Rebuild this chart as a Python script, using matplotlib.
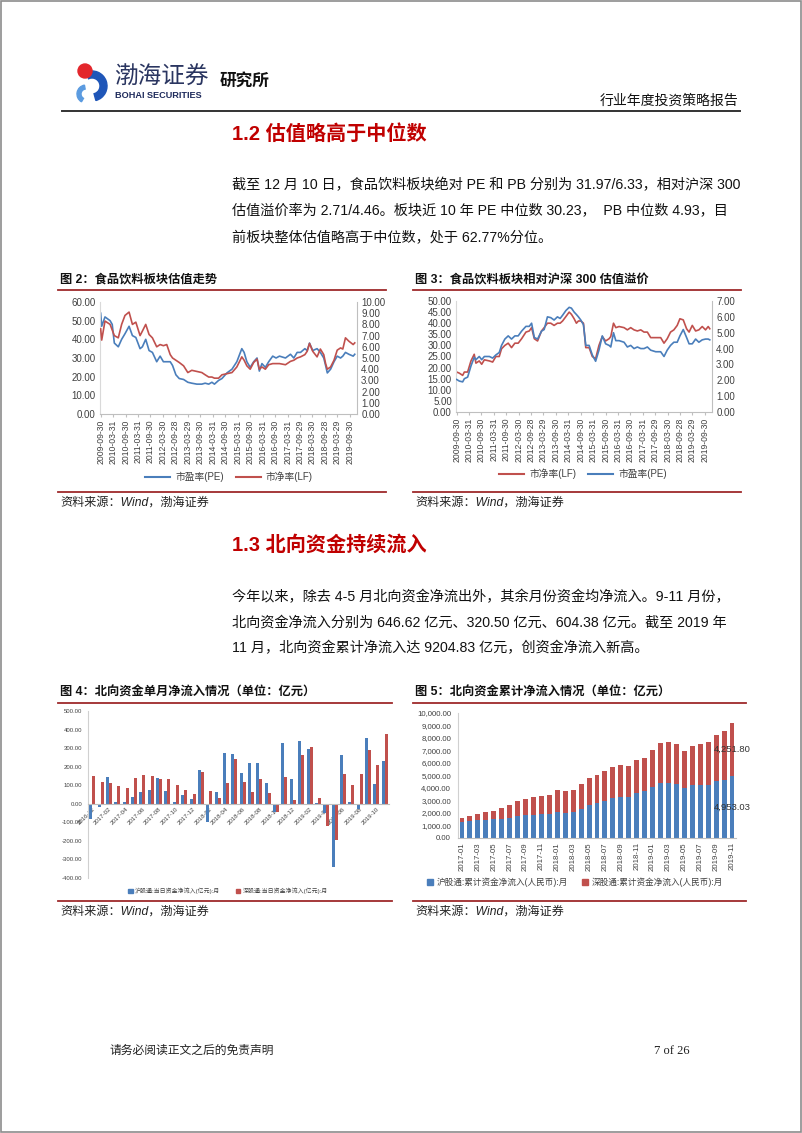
import numpy as np
import pandas as pd
import matplotlib
matplotlib.use('Agg')
import matplotlib.pyplot as plt
from matplotlib.patches import Rectangle, Wedge, Circle, Patch
from matplotlib.lines import Line2D
from matplotlib.ticker import FuncFormatter

plt.rcParams['font.family'] = ['Liberation Sans', 'Noto Sans CJK SC', 'DejaVu Sans']

# ---------------- 数据 ----------------
# 图2: 食品饮料板块估值走势
fig2_dates = ['2009-09-30', '2009-10-15', '2009-12-02', '2010-02-15', '2010-03-18', '2010-04-18',
              '2010-06-15', '2010-08-03', '2010-09-21', '2010-11-20', '2011-01-08', '2011-02-27',
              '2011-04-30', '2011-06-03', '2011-07-22', '2011-09-09', '2011-10-28', '2011-12-30',
              '2012-02-18', '2012-04-06', '2012-05-25', '2012-07-15', '2012-08-18', '2012-10-06',
              '2012-11-24', '2013-01-27', '2013-03-30', '2013-05-27', '2013-08-09', '2013-10-21',
              '2013-12-09', '2014-01-30', '2014-03-18', '2014-04-24', '2014-06-24', '2014-08-12',
              '2014-10-24', '2015-01-06', '2015-03-18', '2015-05-30', '2015-07-03', '2015-08-12',
              '2015-09-30', '2015-11-20', '2016-01-08', '2016-02-11', '2016-03-20', '2016-05-09',
              '2016-06-27', '2016-08-25', '2016-10-13', '2016-12-02', '2017-02-28', '2017-05-12',
              '2017-06-30', '2017-08-18', '2017-10-06', '2017-12-09', '2018-01-12', '2018-02-15',
              '2018-04-03', '2018-06-06', '2018-07-24', '2018-09-12', '2018-10-09', '2018-11-03',
              '2018-12-21', '2019-02-09', '2019-03-28', '2019-05-16', '2019-06-18', '2019-07-27',
              '2019-09-15', '2019-11-17', '2019-12-10']
fig2_pe = [54, 47, 52, 50, 48, 38, 36, 40, 43, 47,
           42, 41, 35, 36, 40, 34, 33, 28, 31, 28,
           28, 28, 26, 21, 19, 18.5, 17, 16.5, 16, 16,
           16.5, 16, 17, 16, 18, 19, 22, 24, 28, 35,
           33, 28, 25, 28, 30, 23, 27, 25, 28, 31,
           30, 31, 30, 32, 30, 33, 33, 35, 34, 38,
           34, 35, 33, 30, 26, 22, 24, 28, 31, 30,
           31, 33, 32, 31, 32]
fig2_pb = [7.6, 6.6, 8.3, 8.0, 7.5, 7.0, 6.8, 8.0, 8.8, 9.1,
           8.0, 8.2, 7.0, 7.4, 8.0, 7.1, 6.8, 6.0, 6.2, 6.1,
           6.2, 5.3, 5.0, 4.8, 4.6, 4.3, 3.7, 3.9, 3.8, 3.7,
           3.5, 3.3, 3.3, 3.2, 3.2, 3.5, 3.6, 3.7, 4.2, 5.1,
           4.8, 4.3, 4.0, 4.6, 4.9, 4.0, 4.2, 4.0, 4.4, 4.5,
           4.5, 4.5, 4.4, 4.7, 4.8, 5.0, 5.1, 5.3, 5.6, 6.3,
           5.6, 5.1, 5.8, 5.3, 4.5, 4.0, 4.2, 4.8, 5.7, 5.9,
           5.8, 6.8, 6.5, 6.2, 6.35]

# 图3: 食品饮料板块相对沪深300估值溢价
fig3_dates = ['2009-09-30', '2009-11-08', '2009-12-27', '2010-01-21', '2010-03-10', '2010-04-28',
              '2010-06-15', '2010-07-10', '2010-08-28', '2010-10-03', '2010-11-11', '2011-01-24',
              '2011-03-13', '2011-04-30', '2011-06-18', '2011-07-22', '2011-09-09', '2011-10-28',
              '2011-12-16', '2012-02-03', '2012-03-23', '2012-05-12', '2012-07-15', '2012-09-02',
              '2012-10-06', '2012-11-15', '2013-01-02', '2013-03-01', '2013-04-09', '2013-05-27',
              '2013-07-15', '2013-09-02', '2013-10-21', '2013-11-30', '2014-01-05', '2014-02-23',
              '2014-04-12', '2014-05-15', '2014-06-24', '2014-07-27', '2014-08-26', '2014-09-30',
              '2014-11-08', '2014-12-12', '2015-01-30', '2015-03-18', '2015-05-06', '2015-06-24',
              '2015-08-12', '2015-09-30', '2015-11-20', '2015-12-15', '2016-01-24', '2016-02-27',
              '2016-04-15', '2016-06-27', '2016-08-15', '2016-10-03', '2016-11-21', '2017-01-09',
              '2017-02-28', '2017-04-17', '2017-06-05', '2017-07-24', '2017-10-06', '2017-12-18',
              '2018-02-05', '2018-03-24', '2018-05-12', '2018-06-30', '2018-08-18', '2018-09-27',
              '2018-11-15', '2019-01-03', '2019-02-09', '2019-03-28', '2019-05-16', '2019-07-03',
              '2019-08-21', '2019-10-09', '2019-11-17', '2019-12-10']
fig3_pb_rel = [18, 17.5, 16.5, 18, 18, 23, 26, 22, 23, 21.5,
               23.5, 23, 22.5, 25, 25, 28.5, 30, 31, 29, 31,
               31, 33, 36, 36.5, 38, 33, 32, 36.5, 38, 40,
               40, 39, 40, 40, 41, 43, 45, 44, 42, 40,
               41, 41, 40, 29, 29, 25, 24, 30, 34, 32,
               33, 34, 40, 38, 38.5, 38, 37, 38, 37, 36.5,
               37, 36, 36, 33.5, 33.5, 33.5, 31, 33, 36, 37,
               39, 42, 41.5, 37.5, 36, 39, 36.5, 37, 38.5, 37,
               38.5, 37.5]
fig3_pe_rel = [2.05, 1.95, 1.9, 2.1, 2.2, 2.9, 3.45, 3.3, 3.5, 3.3,
               3.5, 3.5, 3.4, 3.6, 3.75, 4.2, 4.6, 4.8, 4.6, 4.8,
               4.8, 5.1, 5.4, 5.4, 5.6, 4.7, 4.6, 5.1, 5.2, 6.0,
               5.95, 5.8, 6.0, 5.9, 6.1, 6.4, 6.6, 6.55, 6.3, 6.15,
               6.0, 5.8, 5.5, 4.2, 4.2, 3.6, 3.2, 3.9, 4.8, 4.3,
               4.2, 4.1, 5.0, 4.5, 4.5, 4.4, 4.1, 4.2, 4.0, 4.1,
               4.0, 4.0, 4.1, 3.9, 3.8, 3.8, 3.5, 3.9, 4.2, 4.4,
               4.4, 4.8, 5.2, 4.7, 4.3, 4.3, 4.6, 4.4, 4.55, 4.6,
               4.6, 4.55]

date_ticks = ['2009-09-30', '2010-03-31', '2010-09-30', '2011-03-31', '2011-09-30', '2012-03-30',
              '2012-09-28', '2013-03-29', '2013-09-30', '2014-03-31', '2014-09-30', '2015-03-31',
              '2015-09-30', '2016-03-31', '2016-09-30', '2017-03-31', '2017-09-29', '2018-03-30',
              '2018-09-28', '2019-03-29', '2019-09-30']

# 图4: 北向资金单月净流入 (亿元)
months4 = list(pd.period_range('2016-12', '2019-11', freq='M').strftime('%Y-%m'))
sh_month = [-80, -20, 145, 10, 10, 35, 62, 72, 137, 70, 12, 45, 27, 180, -100, 62, 272, 268,
            165, 220, 218, 112, -45, 325, 133, 340, 295, 5, -50, -340, 262, 12, -30, 355, 105, 228]
sz_month = [150, 115, 110, 97, 85, 140, 155, 148, 132, 135, 103, 75, 52, 170, 70, 30, 110, 240,
            115, 62, 135, 60, -45, 142, 22, 265, 308, 32, -120, -195, 160, 103, 160, 290, 210, 375]

# 图5: 北向资金累计净流入 (亿元)
months5 = list(pd.period_range('2017-01', '2019-11', freq='M').strftime('%Y-%m'))
sh_cum = [1250, 1400, 1420, 1430, 1500, 1560, 1630, 1770, 1840, 1850, 1900, 1930, 2110, 2010, 2070,
          2340, 2610, 2770, 2990, 3210, 3320, 3280, 3600, 3740, 4080, 4370, 4380, 4330, 3990, 4250,
          4260, 4230, 4570, 4680, 4953.03]
sz_cum = [330, 400, 530, 620, 700, 870, 1010, 1160, 1290, 1400, 1450, 1540, 1710, 1780, 1800,
          1950, 2190, 2290, 2350, 2490, 2560, 2510, 2650, 2680, 2950, 3270, 3300, 3170, 2940, 3110,
          3280, 3420, 3710, 3920, 4251.80]

BLUE = '#4a7ebb'
RED = '#c0504d'
TITLE_RED = '#c00000'
RULE = '#9e2a2b'
TICK = '#404040'

W, H = 802, 1133
fig = plt.figure(figsize=(W / 100, H / 100), dpi=100)
page = fig.add_axes([0, 0, 1, 1])
page.set_xlim(0, W)
page.set_ylim(H, 0)
page.axis('off')


def box(x0, y0, x1, y1):
    """像素坐标 (左上原点) -> figure 坐标"""
    return [x0 / W, 1 - y1 / H, (x1 - x0) / W, (y1 - y0) / H]


def figpt(x, y):
    return (x / W, 1 - y / H)


# 页面边框
page.add_patch(Rectangle((0.5, 0.5), W - 1.5, H - 1.5, fill=False, ec='#8c8c8c', lw=1.2))

# ---------------- 页眉 ----------------
page.add_patch(Wedge((92, 86), 15, -115, 75, width=7, color='#1f56b8'))
page.add_patch(Wedge((86, 94), 9, 120, 260, width=4, color='#5b9be0'))
page.add_patch(Circle((85, 71), 7, color='#e3262c'))
page.text(114, 78, '渤海证券', fontsize=17, color='#2a3560', va='center', ha='left')
page.text(115, 95, 'BOHAI SECURITIES', fontsize=6.6, fontweight='bold', color='#1f2b5c',
          va='center', ha='left')
page.text(220, 81, '研究所', fontsize=12, fontweight='bold', color='#111111', va='center')
page.text(738, 101, '行业年度投资策略报告', fontsize=10, color='#111111', ha='right', va='center')
page.plot([62, 740], [111, 111], color='#333333', lw=1.4)

# ---------------- 1.2 ----------------
page.text(232, 134, '1.2 估值略高于中位数', fontsize=14.5, fontweight='bold', color=TITLE_RED,
          va='center')
para1 = ['截至 12 月 10 日，食品饮料板块绝对 PE 和 PB 分别为 31.97/6.33，相对沪深 300',
         '估值溢价率为 2.71/4.46。板块近 10 年 PE 中位数 30.23，  PB 中位数 4.93，目',
         '前板块整体估值略高于中位数，处于 62.77%分位。']
for i, line in enumerate(para1):
    page.text(232, 185 + 26.5 * i, line, fontsize=10.2, color='#111111', va='center')


# ---------------- 图标题与分隔线 ----------------
def chart_frame(x0, x1, y_title, y_rule, y_bottom, title):
    page.text(x0 + 2, y_title, title, fontsize=8.8, fontweight='bold', color='#111111', va='center')
    page.plot([x0, x1], [y_rule, y_rule], color=RULE, lw=1.3)
    page.plot([x0, x1], [y_bottom, y_bottom], color=RULE, lw=1.3)
    page.text(x0 + 2, y_bottom + 11, '资料来源：Wind，渤海证券', fontsize=8.7, color='#222222',
              va='center', style='italic')


chart_frame(58, 386, 280, 290, 492, '图 2：食品饮料板块估值走势')
chart_frame(413, 741, 280, 290, 492, '图 3：食品饮料板块相对沪深 300 估值溢价')
chart_frame(58, 392, 693, 703, 901, '图 4：北向资金单月净流入情况（单位：亿元）')
chart_frame(413, 746, 693, 703, 901, '图 5：北向资金累计净流入情况（单位：亿元）')

fmt2 = FuncFormatter(lambda v, p: f'{v:.2f}')
xl = (pd.Timestamp('2009-09-20'), pd.Timestamp('2020-01-12'))
tick_dates = pd.to_datetime(date_ticks)


def style_line_axes(ax, ax2):
    for a in (ax, ax2):
        for s in a.spines.values():
            s.set_visible(False)
        a.tick_params(axis='y', length=0, labelsize=7, labelcolor=TICK, pad=3)
    ax.spines['bottom'].set_visible(True)
    ax.spines['bottom'].set_color('#bfbfbf')
    ax.spines['left'].set_visible(True)
    ax.spines['left'].set_color('#d9d9d9')
    ax2.spines['right'].set_visible(True)
    ax2.spines['right'].set_color('#bfbfbf')
    ax.set_xlim(*xl)
    ax.set_xticks(tick_dates)
    ax.set_xticklabels(date_ticks, rotation=90, fontsize=6.2, color=TICK)
    ax.tick_params(axis='x', length=2, color='#bfbfbf', pad=2)
    ax.yaxis.set_major_formatter(fmt2)
    ax2.yaxis.set_major_formatter(fmt2)


# ---------------- 图2 ----------------
ax2a = fig.add_axes(box(100, 302, 357, 414))
ax2a.plot(pd.to_datetime(fig2_dates), fig2_pe, color=BLUE, lw=1.2)
ax2b = ax2a.twinx()
ax2b.plot(pd.to_datetime(fig2_dates), fig2_pb, color=RED, lw=1.2)
ax2a.set_ylim(0, 60)
ax2a.set_yticks(np.arange(0, 61, 10))
ax2b.set_ylim(0, 10)
ax2b.set_yticks(np.arange(0, 11, 1))
style_line_axes(ax2a, ax2b)
fig.legend([Line2D([], [], color=BLUE, lw=1.5), Line2D([], [], color=RED, lw=1.5)],
           ['市盈率(PE)', '市净率(LF)'], loc='center', bbox_to_anchor=figpt(229, 477), ncol=2,
           frameon=False, fontsize=7, handlelength=2.6, columnspacing=1.2, handletextpad=0.5,
           labelcolor=TICK)

# ---------------- 图3 ----------------
ax3a = fig.add_axes(box(456, 301, 712, 412))
ax3a.plot(pd.to_datetime(fig3_dates), fig3_pb_rel, color=RED, lw=1.2)
ax3b = ax3a.twinx()
ax3b.plot(pd.to_datetime(fig3_dates), fig3_pe_rel, color=BLUE, lw=1.2)
ax3a.set_ylim(0, 50)
ax3a.set_yticks(np.arange(0, 51, 5))
ax3b.set_ylim(0, 7)
ax3b.set_yticks(np.arange(0, 8, 1))
style_line_axes(ax3a, ax3b)
fig.legend([Line2D([], [], color=RED, lw=1.5), Line2D([], [], color=BLUE, lw=1.5)],
           ['市净率(LF)', '市盈率(PE)'], loc='center', bbox_to_anchor=figpt(583, 474), ncol=2,
           frameon=False, fontsize=7, handlelength=2.6, columnspacing=1.2, handletextpad=0.5,
           labelcolor=TICK)

# ---------------- 图4 ----------------
ax4 = fig.add_axes(box(88, 711, 389, 878))
x4 = np.arange(len(months4))
bw = 0.36
ax4.bar(x4 - bw / 2, sh_month, width=bw, color=BLUE, zorder=2)
ax4.bar(x4 + bw / 2, sz_month, width=bw, color=RED, zorder=2)
ax4.set_xlim(-0.5, len(months4) - 0.5)
ax4.set_ylim(-400, 500)
ax4.set_yticks(np.arange(-400, 501, 100))
ax4.yaxis.set_major_formatter(fmt2)
ax4.tick_params(axis='y', length=0, labelsize=4.3, labelcolor=TICK, pad=4)
for s in ('top', 'right'):
    ax4.spines[s].set_visible(False)
ax4.spines['left'].set_color('#d0d0d0')
ax4.spines['bottom'].set_position(('data', 0))
ax4.spines['bottom'].set_color('#bfbfbf')
ax4.set_xticks(x4[::2])
ax4.set_xticklabels(months4[::2], rotation=45, ha='right', rotation_mode='anchor',
                    fontsize=4.4, color=TICK)
ax4.tick_params(axis='x', length=0, pad=2)
fig.legend([Patch(color=BLUE), Patch(color=RED)],
           ['沪股通:当日资金净流入(亿元):月', '深股通:当日资金净流入(亿元):月'],
           loc='center', bbox_to_anchor=figpt(228, 891), ncol=2, frameon=False, fontsize=4.3,
           handlelength=0.7, handleheight=0.7, columnspacing=2.6, handletextpad=0.4,
           labelcolor=TICK)

# ---------------- 图5 ----------------
ax5 = fig.add_axes(box(458, 713, 736, 838))
x5 = np.arange(len(months5))
ax5.bar(x5, sh_cum, width=0.62, color=BLUE, zorder=2)
ax5.bar(x5, sz_cum, width=0.62, bottom=sh_cum, color=RED, zorder=2)
ax5.set_xlim(-0.5, len(months5) - 0.5)
ax5.set_ylim(0, 10000)
ax5.set_yticks(np.arange(0, 10001, 1000))
ax5.yaxis.set_major_formatter(FuncFormatter(lambda v, p: f'{v:,.2f}'))
ax5.tick_params(axis='y', length=0, labelsize=5.6, labelcolor=TICK, pad=5)
for s in ('top', 'right'):
    ax5.spines[s].set_visible(False)
ax5.spines['left'].set_color('#d0d0d0')
ax5.spines['bottom'].set_color('#bfbfbf')
ax5.set_xticks(x5[::2])
ax5.set_xticklabels(months5[::2], rotation=90, fontsize=5.6, color=TICK)
ax5.tick_params(axis='x', length=0, pad=3)
last = len(months5) - 1
ax5.text(last, sh_cum[-1] / 2, f'{sh_cum[-1]:,.2f}', ha='center', va='center', fontsize=6.8,
         color='#333333', zorder=3)
ax5.text(last, sh_cum[-1] + sz_cum[-1] / 2, f'{sz_cum[-1]:,.2f}', ha='center', va='center',
         fontsize=6.8, color='#333333', zorder=3)
fig.legend([Patch(color=BLUE), Patch(color=RED)],
           ['沪股通:累计资金净流入(人民币):月', '深股通:累计资金净流入(人民币):月'],
           loc='center', bbox_to_anchor=figpt(575, 882), ncol=2, frameon=False, fontsize=6.2,
           handlelength=0.7, handleheight=0.7, columnspacing=1.6, handletextpad=0.4,
           labelcolor=TICK)

# ---------------- 1.3 ----------------
page.text(232, 545, '1.3 北向资金持续流入', fontsize=14.5, fontweight='bold', color=TITLE_RED,
          va='center')
para2 = ['今年以来，除去 4-5 月北向资金净流出外，其余月份资金均净流入。9-11 月份，',
         '北向资金净流入分别为 646.62 亿元、320.50 亿元、604.38 亿元。截至 2019 年',
         '11 月，北向资金累计净流入达 9204.83 亿元，创资金净流入新高。']
for i, line in enumerate(para2):
    page.text(232, 597 + 25.5 * i, line, fontsize=10.2, color='#111111', va='center')

# ---------------- 页脚 ----------------
page.text(110, 1051, '请务必阅读正文之后的免责声明', fontsize=8.5, color='#222222', va='center',
          family=['Liberation Serif', 'Noto Sans CJK SC'])
page.text(690, 1051, '7 of 26', fontsize=9, color='#222222', va='center', ha='right',
          family=['Liberation Serif', 'Noto Sans CJK SC'])

fig.savefig('out.png', dpi=100)
